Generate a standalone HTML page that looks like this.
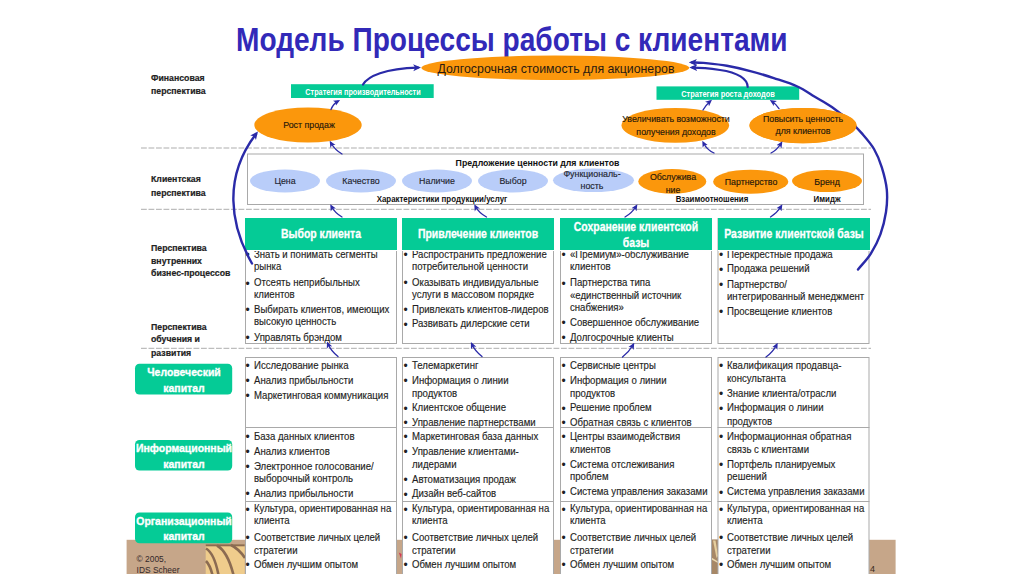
<!DOCTYPE html>
<html lang="ru">
<head>
<meta charset="utf-8">
<title>Модель Процессы работы с клиентами</title>
<style>
html,body{margin:0;padding:0;}
body{width:1024px;height:574px;overflow:hidden;background:#fff;position:relative;font-family:"Liberation Sans",sans-serif;color:#1a1a2a;}
#bg{position:absolute;left:0;top:0;width:1024px;height:574px;}
.t{position:absolute;white-space:nowrap;transform-origin:0 50%;}
.title{z-index:-1;left:235.5px;top:18.8px;font-size:34px;font-weight:bold;color:#3229b8;line-height:40px;transform:scaleX(.826);}
.ct{font-size:10.5px;line-height:12px;color:#1f1f24;transform:scaleX(.915);-webkit-text-stroke:.15px #1f1f24;}
.bu{font-size:12px;line-height:12px;color:#1f1f24;}
.lbl{font-size:9.5px;font-weight:bold;color:#222;line-height:13px;transform:scaleX(.92);-webkit-text-stroke:.2px #222;}
.gh{position:absolute;background:#05cb96;color:#fff;font-weight:bold;text-align:center;}
.col{position:absolute;font-size:10.5px;line-height:13.5px;color:#1c1c30;}
.col ul{margin:0;padding:0;list-style:none;}
.col li{position:relative;padding-left:9px;margin:0;white-space:nowrap;transform:scaleX(.93);transform-origin:0 50%;}
.col li:before{content:"\2022";position:absolute;left:0;top:0;}

.hd{position:absolute;top:218px;height:31.5px;background:#05cb96;overflow:hidden;z-index:3;border-bottom:1.6px solid #fff;}
.hd span{position:absolute;left:50%;white-space:nowrap;color:#fff;font-weight:bold;font-size:12.5px;line-height:15px;transform:translateX(-50%) scaleX(.835);transform-origin:50% 50%;-webkit-text-stroke:.3px #fff;}
.cap{position:absolute;left:135px;width:97.2px;height:31px;z-index:3;}
.cap span{position:absolute;left:50%;white-space:nowrap;color:#fff;font-weight:bold;font-size:11.3px;line-height:14px;transform:translateX(-50%) scaleX(.925);transform-origin:50% 50%;-webkit-text-stroke:.35px #fff;}
.c{position:absolute;white-space:nowrap;transform:translateX(-50%);transform-origin:50% 50%;text-align:center;}
.et{font-size:9.8px;line-height:12px;color:#24160a;transform:translateX(-50%) scaleX(.90);-webkit-text-stroke:.15px #24160a;}
.sb{font-size:9.8px;line-height:12px;font-weight:bold;color:#fff;}
.vb{font-size:8.5px;line-height:10px;font-weight:bold;color:#111;transform:translateX(-50%) scaleX(.93);}
</style>
</head>
<body>
<svg id="bg" width="1024" height="574" viewBox="0 0 1024 574">

  <defs>
    <filter id="bl" x="-5%" y="-5%" width="110%" height="110%"><feGaussianBlur stdDeviation="0.45"/></filter>
  </defs>
  <!-- bottom strip -->
  <rect x="126.600" y="539.800" width="769" height="35" fill="#c6a689"/>
  <g id="wood">
    <rect x="205.700" y="544.500" width="39" height="30" fill="#efcc8c"/>
    <g stroke="#8b6b52" stroke-width="2.6" fill="none">
      <path d="M206,548.500 C212,552 216,562 218.500,575"/>
      <path d="M217,545.500 C225,550 230,561 233.500,575"/>
      <path d="M231,545 C237,548 241,552 245,558"/>
      <path d="M206,561 C209,564 211,569 212.500,575"/>
    </g>
    <rect x="205.700" y="544.300" width="39" height="2" fill="#8b6b52"/>
  </g>
  <path d="M398.800,552.500 L401.600,554 L401,558.500 z" fill="#d23a55"/>
  <g id="sliver">
    <rect x="711" y="539.500" width="7.500" height="35" fill="#a78867"/>
    <path d="M713,540.500 L715.500,540.500 L718,556 L716.500,558 z" fill="#e6cf9f"/>
    <path d="M711.500,557.500 L718,561.500 L718,563 L711.500,559.500 z" fill="#ecd9b0"/>
  </g>
  <!-- dashed separators -->
  <g stroke="#adadad" stroke-width="1" stroke-dasharray="5.800 1.700" fill="none">
    <path d="M141,148 H871"/>
    <path d="M141,209.300 H871"/>
    <path d="M141,348.300 H871"/>
  </g>
  <!-- value proposition box -->
  <rect x="247.500" y="154" width="616" height="50.500" fill="#fff" stroke="#a9a9a9" stroke-width="1"/>
  <!-- top ellipse -->
  <ellipse cx="555.300" cy="67.800" rx="134" ry="12.200" fill="#fb970c"/>
  <!-- orange ellipses -->
  <ellipse cx="308" cy="125" rx="53.700" ry="17.600" fill="#fb970c"/>
  <ellipse cx="675.300" cy="125.300" rx="53.800" ry="17.400" fill="#fb970c"/>
  <ellipse cx="803" cy="125.600" rx="53.500" ry="17.700" fill="#fb970c"/>
  <!-- blue ellipses -->
  <g fill="#b9cdf9">
    <ellipse cx="285" cy="181" rx="35" ry="11.500"/>
    <ellipse cx="361" cy="181" rx="35" ry="11.500"/>
    <ellipse cx="437" cy="181" rx="35" ry="11.500"/>
    <ellipse cx="513" cy="181" rx="35" ry="11.500"/>
    <ellipse cx="593.500" cy="180.300" rx="40.500" ry="11.800"/>
  </g>
  <g fill="#fb970c">
    <ellipse cx="672.300" cy="181.400" rx="34" ry="12.300"/>
    <ellipse cx="750.700" cy="181.700" rx="37.600" ry="12"/>
    <ellipse cx="827" cy="181" rx="35" ry="11"/>
  </g>
  <!-- green strategy boxes -->
  <rect x="291" y="84.200" width="142.700" height="13.800" fill="#05cb96"/>
  <rect x="656.500" y="86.400" width="142.700" height="13.400" fill="#05cb96"/>
  <!-- column boxes -->
  <g fill="#fff" stroke="#a9a9a9" stroke-width="1">
    <rect x="245.5" y="218.5" width="151" height="125"/>
    <rect x="402.5" y="218.5" width="151" height="125"/>
    <rect x="560.5" y="218.5" width="151" height="125"/>
    <rect x="718" y="218.5" width="151" height="125"/>
    <rect x="245.5" y="357.5" width="151" height="70"/>
    <rect x="402.5" y="357.5" width="151" height="70"/>
    <rect x="560.5" y="357.5" width="151" height="70"/>
    <rect x="718" y="357.5" width="151" height="70"/>
    <rect x="245.5" y="427.5" width="151" height="74"/>
    <rect x="402.5" y="427.5" width="151" height="74"/>
    <rect x="560.5" y="427.5" width="151" height="74"/>
    <rect x="718" y="427.5" width="151" height="74"/>
    <rect x="245.5" y="501.5" width="151" height="76"/>
    <rect x="402.5" y="501.5" width="151" height="76"/>
    <rect x="560.5" y="501.5" width="151" height="76"/>
    <rect x="718" y="501.5" width="151" height="76"/>
  </g>
  <!-- left capital labels -->
  <g fill="#05cb96">
    <rect x="135" y="363.800" width="97.200" height="30.800" rx="4.500"/>
    <rect x="135" y="440" width="97.200" height="30.600" rx="4.500"/>
    <rect x="135" y="512.400" width="97.200" height="30.800" rx="4.500"/>
  </g>
</svg>
<div class="t title">Модель Процессы работы с клиентами</div>
<!-- COLTEXT-BEGIN -->
<div class="t bu" style="left:245.6px;top:249.4px">&#8226;</div>
<div class="t ct" style="left:253.8px;top:248.1px">Знать и понимать сегменты</div>
<div class="t ct" style="left:253.8px;top:259.6px">рынка</div>
<div class="t bu" style="left:245.6px;top:277.6px">&#8226;</div>
<div class="t ct" style="left:253.8px;top:276.3px">Отсеять неприбыльных</div>
<div class="t ct" style="left:253.8px;top:288.4px">клиентов</div>
<div class="t bu" style="left:245.6px;top:304.3px">&#8226;</div>
<div class="t ct" style="left:253.8px;top:303.0px">Выбирать клиентов, имеющих</div>
<div class="t ct" style="left:253.8px;top:315.1px">высокую ценность</div>
<div class="t bu" style="left:245.6px;top:332.2px">&#8226;</div>
<div class="t ct" style="left:253.8px;top:330.9px">Управлять брэндом</div>
<div class="t bu" style="left:403.5px;top:249.2px">&#8226;</div>
<div class="t ct" style="left:411.7px;top:247.9px">Распространить предложение</div>
<div class="t ct" style="left:411.7px;top:260.1px">потребительной ценности</div>
<div class="t bu" style="left:403.5px;top:277.1px">&#8226;</div>
<div class="t ct" style="left:411.7px;top:275.8px">Оказывать индивидуальные</div>
<div class="t ct" style="left:411.7px;top:287.7px">услуги в массовом порядке</div>
<div class="t bu" style="left:403.5px;top:304.3px">&#8226;</div>
<div class="t ct" style="left:411.7px;top:303.0px">Привлекать клиентов-лидеров</div>
<div class="t bu" style="left:403.5px;top:318.6px">&#8226;</div>
<div class="t ct" style="left:411.7px;top:317.3px">Развивать дилерские сети</div>
<div class="t bu" style="left:561.6px;top:249.2px">&#8226;</div>
<div class="t ct" style="left:569.8px;top:247.9px">«Премиум»-обслуживание</div>
<div class="t ct" style="left:569.8px;top:260.1px">клиентов</div>
<div class="t bu" style="left:561.6px;top:277.7px">&#8226;</div>
<div class="t ct" style="left:569.8px;top:276.4px">Партнерства типа</div>
<div class="t ct" style="left:569.8px;top:288.6px">«единственный источник</div>
<div class="t ct" style="left:569.8px;top:300.8px">снабжения»</div>
<div class="t bu" style="left:561.6px;top:316.9px">&#8226;</div>
<div class="t ct" style="left:569.8px;top:315.6px">Совершенное обслуживание</div>
<div class="t bu" style="left:561.6px;top:332.2px">&#8226;</div>
<div class="t ct" style="left:569.8px;top:330.9px">Долгосрочные клиенты</div>
<div class="t bu" style="left:719.0px;top:249.2px">&#8226;</div>
<div class="t ct" style="left:727.2px;top:247.9px">Перекрестные продажа</div>
<div class="t bu" style="left:719.0px;top:263.7px">&#8226;</div>
<div class="t ct" style="left:727.2px;top:262.4px">Продажа решений</div>
<div class="t bu" style="left:719.0px;top:279.1px">&#8226;</div>
<div class="t ct" style="left:727.2px;top:277.8px">Партнерство/</div>
<div class="t ct" style="left:727.2px;top:290.3px">интегрированный менеджмент</div>
<div class="t bu" style="left:719.0px;top:306.1px">&#8226;</div>
<div class="t ct" style="left:727.2px;top:304.8px">Просвещение клиентов</div>
<div class="t bu" style="left:245.6px;top:360.1px">&#8226;</div>
<div class="t ct" style="left:253.8px;top:358.8px">Исследование рынка</div>
<div class="t bu" style="left:245.6px;top:375.1px">&#8226;</div>
<div class="t ct" style="left:253.8px;top:373.8px">Анализ прибыльности</div>
<div class="t bu" style="left:245.6px;top:390.1px">&#8226;</div>
<div class="t ct" style="left:253.8px;top:388.8px">Маркетинговая коммуникация</div>
<div class="t bu" style="left:403.5px;top:360.1px">&#8226;</div>
<div class="t ct" style="left:411.7px;top:358.8px">Телемаркетинг</div>
<div class="t bu" style="left:403.5px;top:375.1px">&#8226;</div>
<div class="t ct" style="left:411.7px;top:373.8px">Информация о линии</div>
<div class="t ct" style="left:411.7px;top:386.8px">продуктов</div>
<div class="t bu" style="left:403.5px;top:402.7px">&#8226;</div>
<div class="t ct" style="left:411.7px;top:401.4px">Клиентское общение</div>
<div class="t bu" style="left:403.5px;top:417.1px">&#8226;</div>
<div class="t ct" style="left:411.7px;top:415.8px">Управление партнерствами</div>
<div class="t bu" style="left:561.6px;top:360.1px">&#8226;</div>
<div class="t ct" style="left:569.8px;top:358.8px">Сервисные центры</div>
<div class="t bu" style="left:561.6px;top:375.1px">&#8226;</div>
<div class="t ct" style="left:569.8px;top:373.8px">Информация о линии</div>
<div class="t ct" style="left:569.8px;top:386.8px">продуктов</div>
<div class="t bu" style="left:561.6px;top:402.7px">&#8226;</div>
<div class="t ct" style="left:569.8px;top:401.4px">Решение проблем</div>
<div class="t bu" style="left:561.6px;top:417.1px">&#8226;</div>
<div class="t ct" style="left:569.8px;top:415.8px">Обратная связь с клиентов</div>
<div class="t bu" style="left:719.0px;top:360.1px">&#8226;</div>
<div class="t ct" style="left:727.2px;top:358.8px">Квалификация продавца-</div>
<div class="t ct" style="left:727.2px;top:371.5px">консультанта</div>
<div class="t bu" style="left:719.0px;top:388.1px">&#8226;</div>
<div class="t ct" style="left:727.2px;top:386.8px">Знание клиента/отрасли</div>
<div class="t bu" style="left:719.0px;top:402.7px">&#8226;</div>
<div class="t ct" style="left:727.2px;top:401.4px">Информация о линии</div>
<div class="t ct" style="left:727.2px;top:414.6px">продуктов</div>
<div class="t bu" style="left:245.6px;top:431.1px">&#8226;</div>
<div class="t ct" style="left:253.8px;top:429.8px">База данных клиентов</div>
<div class="t bu" style="left:245.6px;top:446.1px">&#8226;</div>
<div class="t ct" style="left:253.8px;top:444.8px">Анализ клиентов</div>
<div class="t bu" style="left:245.6px;top:461.1px">&#8226;</div>
<div class="t ct" style="left:253.8px;top:459.8px">Электронное голосование/</div>
<div class="t ct" style="left:253.8px;top:471.8px">выборочный контроль</div>
<div class="t bu" style="left:245.6px;top:488.1px">&#8226;</div>
<div class="t ct" style="left:253.8px;top:486.8px">Анализ прибыльности</div>
<div class="t bu" style="left:403.5px;top:431.1px">&#8226;</div>
<div class="t ct" style="left:411.7px;top:429.8px">Маркетинговая база данных</div>
<div class="t bu" style="left:403.5px;top:446.1px">&#8226;</div>
<div class="t ct" style="left:411.7px;top:444.8px">Управление клиентами-</div>
<div class="t ct" style="left:411.7px;top:457.8px">лидерами</div>
<div class="t bu" style="left:403.5px;top:473.8px">&#8226;</div>
<div class="t ct" style="left:411.7px;top:472.5px">Автоматизация продаж</div>
<div class="t bu" style="left:403.5px;top:488.5px">&#8226;</div>
<div class="t ct" style="left:411.7px;top:487.2px">Дизайн веб-сайтов</div>
<div class="t bu" style="left:561.6px;top:431.1px">&#8226;</div>
<div class="t ct" style="left:569.8px;top:429.8px">Центры взаимодействия</div>
<div class="t ct" style="left:569.8px;top:442.5px">клиентов</div>
<div class="t bu" style="left:561.6px;top:459.1px">&#8226;</div>
<div class="t ct" style="left:569.8px;top:457.8px">Система отслеживания</div>
<div class="t ct" style="left:569.8px;top:469.8px">проблем</div>
<div class="t bu" style="left:561.6px;top:486.5px">&#8226;</div>
<div class="t ct" style="left:569.8px;top:485.2px">Система управления заказами</div>
<div class="t bu" style="left:719.0px;top:431.1px">&#8226;</div>
<div class="t ct" style="left:727.2px;top:429.8px">Информационная обратная</div>
<div class="t ct" style="left:727.2px;top:442.5px">связь с клиентами</div>
<div class="t bu" style="left:719.0px;top:459.1px">&#8226;</div>
<div class="t ct" style="left:727.2px;top:457.8px">Портфель планируемых</div>
<div class="t ct" style="left:727.2px;top:469.8px">решений</div>
<div class="t bu" style="left:719.0px;top:486.5px">&#8226;</div>
<div class="t ct" style="left:727.2px;top:485.2px">Система управления заказами</div>
<div class="t bu" style="left:245.6px;top:503.7px">&#8226;</div>
<div class="t ct" style="left:253.8px;top:502.4px">Культура, ориентированная на</div>
<div class="t ct" style="left:253.8px;top:514.4px">клиента</div>
<div class="t bu" style="left:245.6px;top:532.3px">&#8226;</div>
<div class="t ct" style="left:253.8px;top:531.0px">Соответствие личных целей</div>
<div class="t ct" style="left:253.8px;top:543.5px">стратегии</div>
<div class="t bu" style="left:245.6px;top:558.8px">&#8226;</div>
<div class="t ct" style="left:253.8px;top:557.5px">Обмен лучшим опытом</div>
<div class="t bu" style="left:403.5px;top:503.7px">&#8226;</div>
<div class="t ct" style="left:411.7px;top:502.4px">Культура, ориентированная на</div>
<div class="t ct" style="left:411.7px;top:514.4px">клиента</div>
<div class="t bu" style="left:403.5px;top:532.3px">&#8226;</div>
<div class="t ct" style="left:411.7px;top:531.0px">Соответствие личных целей</div>
<div class="t ct" style="left:411.7px;top:543.5px">стратегии</div>
<div class="t bu" style="left:403.5px;top:558.8px">&#8226;</div>
<div class="t ct" style="left:411.7px;top:557.5px">Обмен лучшим опытом</div>
<div class="t bu" style="left:561.6px;top:503.7px">&#8226;</div>
<div class="t ct" style="left:569.8px;top:502.4px">Культура, ориентированная на</div>
<div class="t ct" style="left:569.8px;top:514.4px">клиента</div>
<div class="t bu" style="left:561.6px;top:532.3px">&#8226;</div>
<div class="t ct" style="left:569.8px;top:531.0px">Соответствие личных целей</div>
<div class="t ct" style="left:569.8px;top:543.5px">стратегии</div>
<div class="t bu" style="left:561.6px;top:558.8px">&#8226;</div>
<div class="t ct" style="left:569.8px;top:557.5px">Обмен лучшим опытом</div>
<div class="t bu" style="left:719.0px;top:503.7px">&#8226;</div>
<div class="t ct" style="left:727.2px;top:502.4px">Культура, ориентированная на</div>
<div class="t ct" style="left:727.2px;top:514.4px">клиента</div>
<div class="t bu" style="left:719.0px;top:532.3px">&#8226;</div>
<div class="t ct" style="left:727.2px;top:531.0px">Соответствие личных целей</div>
<div class="t ct" style="left:727.2px;top:543.5px">стратегии</div>
<div class="t bu" style="left:719.0px;top:558.8px">&#8226;</div>
<div class="t ct" style="left:727.2px;top:557.5px">Обмен лучшим опытом</div>
<!-- COLTEXT-END -->

<div class="hd" style="left:245px;width:152px"><span style="top:9px">Выбор клиента</span></div>
<div class="hd" style="left:402px;width:152px"><span style="top:9px">Привлечение клиентов</span></div>
<div class="hd" style="left:560px;width:152px"><span style="top:2px">Сохранение клиентской</span><span style="top:18px">базы</span></div>
<div class="hd" style="left:717.5px;width:152px"><span style="top:9px">Развитие клиентской базы</span></div>

<div class="cap" style="top:363.800px"><span style="top:1.200px">Человеческий</span><span style="top:16.850px">капитал</span></div>
<div class="cap" style="top:440px"><span style="top:1.200px">Информационный</span><span style="top:16.850px">капитал</span></div>
<div class="cap" style="top:512.400px"><span style="top:1.200px">Организационный</span><span style="top:16.850px">капитал</span></div>

<div class="t lbl" style="left:151px;top:70.700px">Финансовая</div>
<div class="t lbl" style="left:151px;top:83.700px">перспектива</div>
<div class="t lbl" style="left:151px;top:172.300px">Клиентская</div>
<div class="t lbl" style="left:151px;top:185.900px">перспектива</div>
<div class="t lbl" style="left:151px;top:241.300px">Перспектива</div>
<div class="t lbl" style="left:151px;top:254px">внутренних</div>
<div class="t lbl" style="left:151px;top:266.300px">бизнес-процессов</div>
<div class="t lbl" style="left:151px;top:320px">Перспектива</div>
<div class="t lbl" style="left:151px;top:332px">обучения и</div>
<div class="t lbl" style="left:151px;top:345.800px">развития</div>

<div class="c" style="left:555.700px;top:60.900px;font-size:13.500px;line-height:16px;color:#2a1a10;transform:translateX(-50%) scaleX(.913)">Долгосрочная стоимость для акционеров</div>
<div class="c sb" style="left:362.500px;top:85.500px;transform:translateX(-50%) scaleX(.742)">Стратегия производительности</div>
<div class="c sb" style="left:728px;top:87.500px;transform:translateX(-50%) scaleX(.758)">Стратегия роста доходов</div>
<div class="c et" style="left:308.500px;top:119.300px">Рост продаж</div>
<div class="c et" style="left:675.500px;top:113.200px;line-height:12.500px">Увеличивать возможности<br>получения доходов</div>
<div class="c et" style="left:802.500px;top:113.200px;line-height:12.300px;z-index:6">Повысить ценность<br>для клиентов</div>

<div class="c vb" style="left:537.500px;top:157.800px;font-size:8.750px;transform:translateX(-50%)">Предложение ценности для клиентов</div>
<div class="c vb" style="left:441.500px;top:193.800px">Характеристики продукции/услуг</div>
<div class="c vb" style="left:712px;top:194px">Взаимоотношения</div>
<div class="c vb" style="left:827px;top:194px">Имидж</div>

<div class="c et" style="color:#20283c;left:285px;top:175px">Цена</div>
<div class="c et" style="color:#20283c;left:361px;top:175px">Качество</div>
<div class="c et" style="color:#20283c;left:437px;top:175px">Наличие</div>
<div class="c et" style="color:#20283c;left:513px;top:175px">Выбор</div>
<div class="c et" style="color:#20283c;left:592px;top:167.500px">Функциональ-<br>ность</div>
<div class="c et" style="left:672.500px;top:169.600px;line-height:13.300px">Обслужива<br>ние</div>
<div class="c et" style="left:750.500px;top:176.300px">Партнерство</div>
<div class="c et" style="left:827px;top:176.200px">Бренд</div>

<div class="t" style="left:136.600px;top:554.300px;font-size:8.400px;line-height:10.200px;color:#33282a">© 2005,<br>IDS Scheer</div>
<div class="t" style="left:870px;top:564px;font-size:9px;line-height:11px;color:#3a2a20">4</div>

<svg id="fg" width="1024" height="574" viewBox="0 0 1024 574" style="position:absolute;left:0;top:0;z-index:5;pointer-events:none">
  <defs>
    <marker id="ah" viewBox="0 0 10 10" refX="6" refY="5" markerUnits="userSpaceOnUse" markerWidth="8" markerHeight="8" orient="auto"><path d="M0,0.5 L10,5 L0,9.5 L2.5,5 z" fill="#2a2aa8"/></marker>
    <marker id="as" viewBox="0 0 10 10" refX="6" refY="5" markerUnits="userSpaceOnUse" markerWidth="6.6" markerHeight="6.6" orient="auto"><path d="M0,0.5 L10,5 L0,9.5 L2.5,5 z" fill="#2a2aa8"/></marker>
  </defs>
  <g id="arrows" stroke="#2a2aa8" fill="none" stroke-linecap="round">
    <!-- big left arc -->
    <path d="M252,263.500 C230,225 223,177 256,134" stroke-width="2.4" marker-end="url(#ah)"/>
    <!-- big right arc -->
    <path d="M858.0,269.5 C862.2,264.3 867.0,259.7 870.7,253.8 C874.4,247.9 877.9,241.3 880.4,234.3 C882.9,227.3 884.9,219.4 886.0,212.0 C887.1,204.6 887.5,197.1 886.8,189.7 C886.1,182.3 883.9,174.2 881.8,167.4 C879.7,160.6 877.3,154.7 874.0,149.0 C870.7,143.3 865.9,138.0 861.9,133.4 C857.9,128.8 854.7,125.6 849.7,121.2 C844.8,116.8 838.0,111.3 832.2,107.2 C826.4,103.1 820.6,100.2 814.8,96.8 C809.0,93.3 804.2,89.6 797.4,86.5 C790.6,83.4 781.6,80.7 773.8,78.1 C765.9,75.5 758.1,73.1 750.3,71.1 C742.5,69.0 734.7,67.2 726.9,65.8 C719.1,64.4 709.2,63.5 703.4,62.9 C697.6,62.3 695.9,62.5 692.0,62.4" stroke-width="2.4" marker-end="url(#ah)"/>
    <ellipse cx="803" cy="125.600" rx="53.500" ry="17.700" fill="#fb970c" stroke="none"/>
    <!-- strategy boxes to top ellipse -->
    <path d="M363,84.500 C368,76 385,68.500 418,67.600" stroke-width="2.2" marker-end="url(#ah)"/>
    <path d="M747.700,87 C747.500,79 738,72.500 720,70 C710,68.500 700,67.600 692.500,67.600" stroke-width="2.2" marker-end="url(#ah)"/>
    <!-- ellipses to strategy boxes -->
    <path d="M331,109.500 Q333,104 337.800,101.300" stroke-width="1.35" marker-end="url(#as)"/>
    <path d="M703,110 Q706,105 710,101.500" stroke-width="1.35" marker-end="url(#as)"/>
    <path d="M779,108.600 Q776,104 772,101.500" stroke-width="1.35" marker-end="url(#as)"/>
    <!-- value box to ellipses -->
    <path d="M342,154 Q335,150 331,143" stroke-width="1.35" marker-end="url(#as)"/>
    <path d="M714,153 Q707,150 703.500,143" stroke-width="1.35" marker-end="url(#as)"/>
    <path d="M771,153 Q777,150 781,143.500" stroke-width="1.35" marker-end="url(#as)"/>
    <!-- headers to value box -->
    <path d="M342,217 Q335,213 331.500,206.500" stroke-width="1.35" marker-end="url(#as)"/>
    <path d="M486.500,217 Q479,213 475.500,206.500" stroke-width="1.35" marker-end="url(#as)"/>
    <path d="M625,217 Q632,213 636,206.500" stroke-width="1.35" marker-end="url(#as)"/>
    <path d="M770.500,217 Q777,213 781,206.500" stroke-width="1.35" marker-end="url(#as)"/>
    <!-- row2 to row1 -->
    <path d="M338,356.500 Q331,351 328,344" stroke-width="1.35" marker-end="url(#as)"/>
    <path d="M482,356.500 Q475,351 472,344.500" stroke-width="1.35" marker-end="url(#as)"/>
    <path d="M622.500,357 Q629,352 633,345" stroke-width="1.35" marker-end="url(#as)"/>
    <path d="M766,357 Q773,352 776.500,345" stroke-width="1.35" marker-end="url(#as)"/>
  </g>
</svg>
</body>
</html>
